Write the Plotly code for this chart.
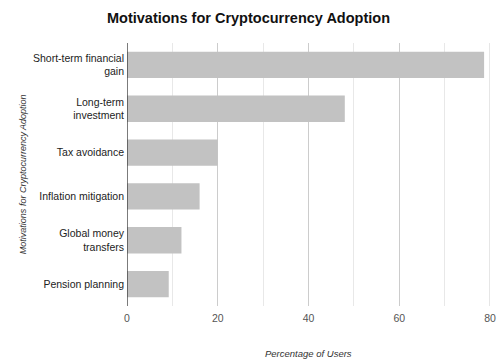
import plotly.graph_objects as go

# Share of users citing each motivation (percent)
motivations = [
    "Short-term financial<br>gain",
    "Long-term<br>investment",
    "Tax avoidance",
    "Inflation mitigation",
    "Global money<br>transfers",
    "Pension planning",
]
percent_users = [78.7, 48, 20, 16, 12, 9.2]

x_ticks = [0, 20, 40, 60, 80]

fig = go.Figure(
    go.Bar(
        x=percent_users,
        y=motivations,
        orientation="h",
        marker=dict(color="#c2c2c2", line=dict(width=0)),
        width=0.6,
        hoverinfo="x+y",
    )
)

fig.update_layout(
    width=497,
    height=361,
    margin=dict(l=126.5, r=7, t=43, b=55),
    paper_bgcolor="white",
    plot_bgcolor="white",
    font=dict(family="Liberation Sans, Arial, sans-serif", size=11, color="#444"),
    showlegend=False,
    title=dict(
        text="<b>Motivations for Cryptocurrency Adoption</b>",
        x=0.5,
        xanchor="center",
        y=1 - 18 / 361,
        yanchor="middle",
        font=dict(size=14.5, color="#111"),
    ),
    bargap=0.4,
)

fig.update_xaxes(
    range=[0, 80],
    tickvals=x_ticks,
    ticktext=[str(v) for v in x_ticks],
    showgrid=True,
    gridcolor="#cccccc",
    gridwidth=1,
    minor=dict(dtick=10, showgrid=True, gridcolor="#e8e8e8", gridwidth=1),
    zeroline=False,
    showline=False,
    ticks="",
    tickfont=dict(size=10.5, color="#555"),
    ticklabelstandoff=4,
    automargin=False,
    fixedrange=True,
)

fig.update_yaxes(
    categoryorder="array",
    categoryarray=motivations[::-1],
    showgrid=False,
    zeroline=False,
    showline=False,
    ticks="",
    tickfont=dict(size=10.5, color="#222"),
    ticklabelstandoff=2,
    automargin=False,
    fixedrange=True,
)

# Baseline at zero drawn as a dark vertical rule, plus the light edge at 80
fig.add_shape(
    type="line", xref="x", yref="paper",
    x0=0, x1=0, y0=0, y1=1,
    line=dict(color="#333333", width=1.3),
)
fig.add_shape(
    type="line", xref="x", yref="paper",
    x0=80, x1=80, y0=0, y1=1,
    line=dict(color="#cccccc", width=1),
)

# Axis titles
fig.add_annotation(
    text="<i>Percentage of Users</i>",
    xref="paper", yref="paper",
    x=0.5, y=-(353 - 306) / 263,
    xanchor="center", yanchor="middle",
    showarrow=False,
    font=dict(size=9.5, color="#333"),
)
fig.add_annotation(
    text="<i>Motivations for Cryptocurrency Adoption</i>",
    xref="paper", yref="paper",
    x=-(126.5 - 22) / 363.5, y=0.5,
    xanchor="center", yanchor="middle",
    textangle=-90,
    showarrow=False,
    font=dict(size=9, color="#333"),
)

fig.write_html("out.html")
